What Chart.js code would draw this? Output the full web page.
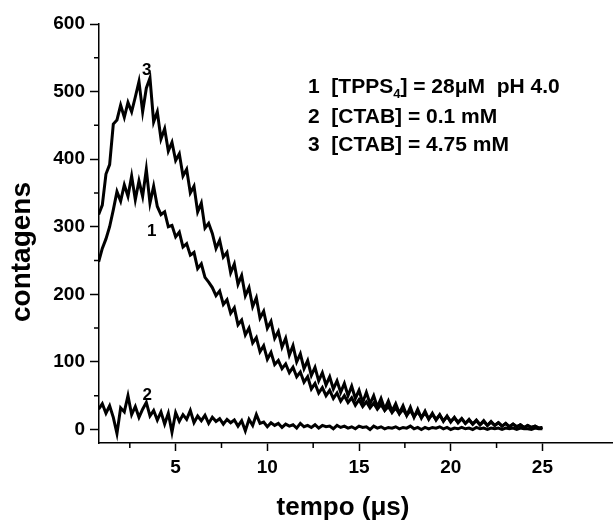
<!DOCTYPE html>
<html lang="pt">
    <head>
        <meta charset="UTF-8" />
        <title>contagens x tempo</title>
        <script src="https://cdn.jsdelivr.net/npm/chart.js@4.4.1/dist/chart.umd.min.js"></script>
        <style>
            body {
                margin: 0;
                background: #fff;
            }
        </style>
    </head>
    <body>
        <canvas id="myChart" width="613" height="525"></canvas>

        <script>
            // tempo em microssegundos
            const tempo = [
                0.8, 1.0, 1.2, 1.4, 1.6, 1.8, 2.0, 2.2, 2.4, 2.6,
                2.8, 3.0, 3.2, 3.4, 3.6, 3.8, 4.0, 4.2, 4.4, 4.6,
                4.8, 5.0, 5.2, 5.4, 5.6, 5.8, 6.0, 6.2, 6.4, 6.6,
                6.8, 7.0, 7.2, 7.4, 7.6, 7.8, 8.0, 8.2, 8.4, 8.6,
                8.8, 9.0, 9.2, 9.4, 9.6, 9.8, 10.0, 10.2, 10.4, 10.6,
                10.8, 11.0, 11.2, 11.4, 11.6, 11.8, 12.0, 12.2, 12.4, 12.6,
                12.8, 13.0, 13.2, 13.4, 13.6, 13.8, 14.0, 14.2, 14.4, 14.6,
                14.8, 15.0, 15.2, 15.4, 15.6, 15.8, 16.0, 16.2, 16.4, 16.6,
                16.8, 17.0, 17.2, 17.4, 17.6, 17.8, 18.0, 18.2, 18.4, 18.6,
                18.8, 19.0, 19.2, 19.4, 19.6, 19.8, 20.0, 20.2, 20.4, 20.6,
                20.8, 21.0, 21.2, 21.4, 21.6, 21.8, 22.0, 22.2, 22.4, 22.6,
                22.8, 23.0, 23.2, 23.4, 23.6, 23.8, 24.0, 24.2, 24.4, 24.6,
                24.8, 25.0,
            ];

            // 1  [TPPS4] = 28uM pH 4.0
            const curva1 = [
                248, 268, 282, 300, 325, 352, 338, 362, 345, 375,
                340, 368, 345, 385, 335, 360, 330, 318, 322, 300,
                302, 285, 292, 270, 275, 258, 262, 238, 245, 225,
                218, 210, 198, 205, 185, 192, 172, 180, 155, 162,
                140, 150, 128, 136, 115, 124, 104, 114, 96, 102,
                90, 97, 84, 92, 78, 85, 70, 78, 60, 68,
                54, 62, 50, 58, 46, 54, 42, 50, 40, 47,
                36, 44, 34, 41, 32, 39, 30, 37, 28, 34,
                25, 32, 23, 30, 21, 28, 19, 26, 18, 24,
                16, 22, 15, 21, 13, 19, 12, 17, 11, 16,
                9, 14, 8, 13, 7, 12, 6, 11, 6, 10,
                5, 9, 4, 8, 4, 7, 3, 6, 3, 5,
                2, 3,
            ];

            // 2  [CTAB] = 0.1 mM
            const curva2 = [
                30, 38, 24, 35, 18, -6, 32, 26, 50, 22,
                34, 18, 30, 40, 20, 28, 14, 26, 8, 24,
                -4, 25, 12, 22, 15, 28, 10, 20, 13, 21,
                9, 18, 12, 16, 8, 15, 10, 14, 5, 13,
                -2, 15, 6, 22, 9, 11, 4, 10, 6, 9,
                3, 8, 5, 7, 2, 9, 4, 6, 3, 7,
                2, 6, 4, 5, 1, 6, 3, 5, 2, 4,
                1, 5, 3, 4, 0, 5, 2, 4, 1, 3,
                2, 4, 1, 3, 2, 5, 1, 3, 0, 3,
                1, 3, 2, 4, 1, 3, 0, 2, 1, 3,
                1, 2, 0, 3, 1, 2, 0, 2, 1, 2,
                0, 2, 1, 2, 0, 2, 1, 1, 0, 2,
                1, 1,
            ];

            // 3  [CTAB] = 4.75 mM
            const curva3 = [
                318, 332, 378, 392, 452, 458, 480, 462, 484, 470,
                492, 515, 470, 505, 520, 455, 470, 430, 445, 412,
                425, 398, 408, 375, 385, 350, 360, 322, 335, 298,
                305, 290, 268, 280, 255, 262, 232, 245, 215, 228,
                198, 210, 182, 195, 165, 175, 150, 160, 135, 145,
                122, 135, 110, 124, 100, 112, 90, 102, 80, 92,
                72, 84, 66, 78, 60, 72, 55, 68, 50, 64,
                46, 58, 40, 55, 38, 50, 33, 46, 30, 42,
                27, 38, 24, 35, 21, 33, 18, 30, 17, 27,
                15, 24, 14, 22, 12, 20, 11, 18, 10, 16,
                9, 15, 8, 14, 7, 13, 6, 12, 6, 10,
                5, 9, 4, 8, 4, 7, 3, 6, 3, 5,
                2, 3,
            ];

            const minorX = [2.5, 7.5, 12.5, 17.5, 22.5];
            const minorY = [50, 150, 250, 350, 450, 550];

            // numeros das curvas e onde ficam (em unidades dos eixos)
            const rotulos = ["1", "2", "3"];
            const rotuloX = [3.69, 3.45, 3.42];
            const rotuloY = [293, 51, 532];

            const legenda = ["1  [TPPS", "4", "] = 28\u03bcM  pH 4.0", "2  [CTAB] = 0.1 mM", "3  [CTAB] = 4.75 mM"];

            function pontos(ys) {
                return ys.map((v, i) => ({ x: tempo[i], y: v }));
            }

            const textos = {
                id: "textos",
                afterDraw(chart) {
                    const ctx = chart.ctx;
                    const sx = chart.scales.x;
                    const sy = chart.scales.y;
                    ctx.save();

                    // ticks menores
                    ctx.strokeStyle = "#000";
                    ctx.lineWidth = 1.5;
                    ctx.beginPath();
                    minorX.forEach((v) => {
                        const px = sx.getPixelForValue(v);
                        ctx.moveTo(px, sx.top);
                        ctx.lineTo(px, sx.top + 5);
                    });
                    minorY.forEach((v) => {
                        const py = sy.getPixelForValue(v);
                        ctx.moveTo(sy.right, py);
                        ctx.lineTo(sy.right - 5, py);
                    });
                    ctx.stroke();

                    ctx.fillStyle = "#000";
                    ctx.textBaseline = "middle";
                    ctx.textAlign = "center";

                    ctx.font = "bold 17px 'Liberation Sans', Arial, sans-serif";
                    rotulos.forEach((t, i) => {
                        ctx.fillText(t, sx.getPixelForValue(rotuloX[i]), sy.getPixelForValue(rotuloY[i]));
                    });

                    // titulos dos eixos
                    ctx.font = "bold 26px 'Liberation Sans', Arial, sans-serif";
                    ctx.fillText("tempo (\u03bcs)", 343, 508);
                    ctx.save();
                    ctx.translate(22, 252);
                    ctx.rotate(-Math.PI / 2);
                    ctx.font = "bold 28px 'Liberation Sans', Arial, sans-serif";
                    ctx.fillText("contagens", 0, 0);
                    ctx.restore();

                    // legenda
                    ctx.textAlign = "left";
                    const fonte = "bold 21px 'Liberation Sans', Arial, sans-serif";
                    ctx.font = fonte;
                    let x0 = 308;
                    ctx.fillText(legenda[0], x0, 87);
                    x0 += ctx.measureText(legenda[0]).width;
                    ctx.font = "bold 13px 'Liberation Sans', Arial, sans-serif";
                    ctx.fillText(legenda[1], x0, 94);
                    x0 += ctx.measureText(legenda[1]).width;
                    ctx.font = fonte;
                    ctx.fillText(legenda[2], x0, 87);
                    ctx.fillText(legenda[3], 308, 117);
                    ctx.fillText(legenda[4], 308, 145);

                    ctx.restore();
                },
            };

            window.addEventListener("load", setup);

            function setup() {
                const ctx = document.getElementById("myChart").getContext("2d");
                const serie = (ys) => ({
                    data: pontos(ys),
                    borderColor: "#000",
                    backgroundColor: "#000",
                    borderWidth: 3,
                    borderJoinStyle: "miter",
                    pointRadius: 0,
                    tension: 0,
                    fill: false,
                });
                new Chart(ctx, {
                    type: "line",
                    data: {
                        datasets: [serie(curva1), serie(curva2), serie(curva3)],
                    },
                    plugins: [textos],
                    options: {
                        responsive: false,
                        animation: false,
                        layout: {
                            padding: { top: 24, left: 0, right: 0, bottom: 0 },
                        },
                        plugins: {
                            legend: { display: false },
                            tooltip: { enabled: false },
                        },
                        scales: {
                            x: {
                                type: "linear",
                                min: 0.82,
                                max: 28.85,
                                afterFit: (s) => {
                                    s.height = 82;
                                    s.paddingLeft = 0;
                                    s.paddingRight = 0;
                                },
                                ticks: {
                                    stepSize: 5,
                                    includeBounds: false,
                                    maxRotation: 0,
                                    padding: 5,
                                    color: "#000",
                                    font: { size: 19, weight: "bold", family: "'Liberation Sans', Arial, sans-serif" },
                                },
                                grid: {
                                    drawOnChartArea: false,
                                    tickLength: 8,
                                    tickWidth: 1.5,
                                    tickColor: "#000",
                                },
                                border: { color: "#000", width: 1.5 },
                            },
                            y: {
                                min: -20,
                                max: 600,
                                afterFit: (s) => {
                                    s.width = 99;
                                    s.paddingTop = 0;
                                    s.paddingBottom = 0;
                                },
                                ticks: {
                                    stepSize: 100,
                                    includeBounds: false,
                                    padding: 5,
                                    color: "#000",
                                    font: { size: 19, weight: "bold", family: "'Liberation Sans', Arial, sans-serif" },
                                },
                                grid: {
                                    drawOnChartArea: false,
                                    tickLength: 9,
                                    tickWidth: 1.5,
                                    tickColor: "#000",
                                },
                                border: { color: "#000", width: 1.5 },
                            },
                        },
                    },
                });
            }
        </script>
    </body>
</html>
